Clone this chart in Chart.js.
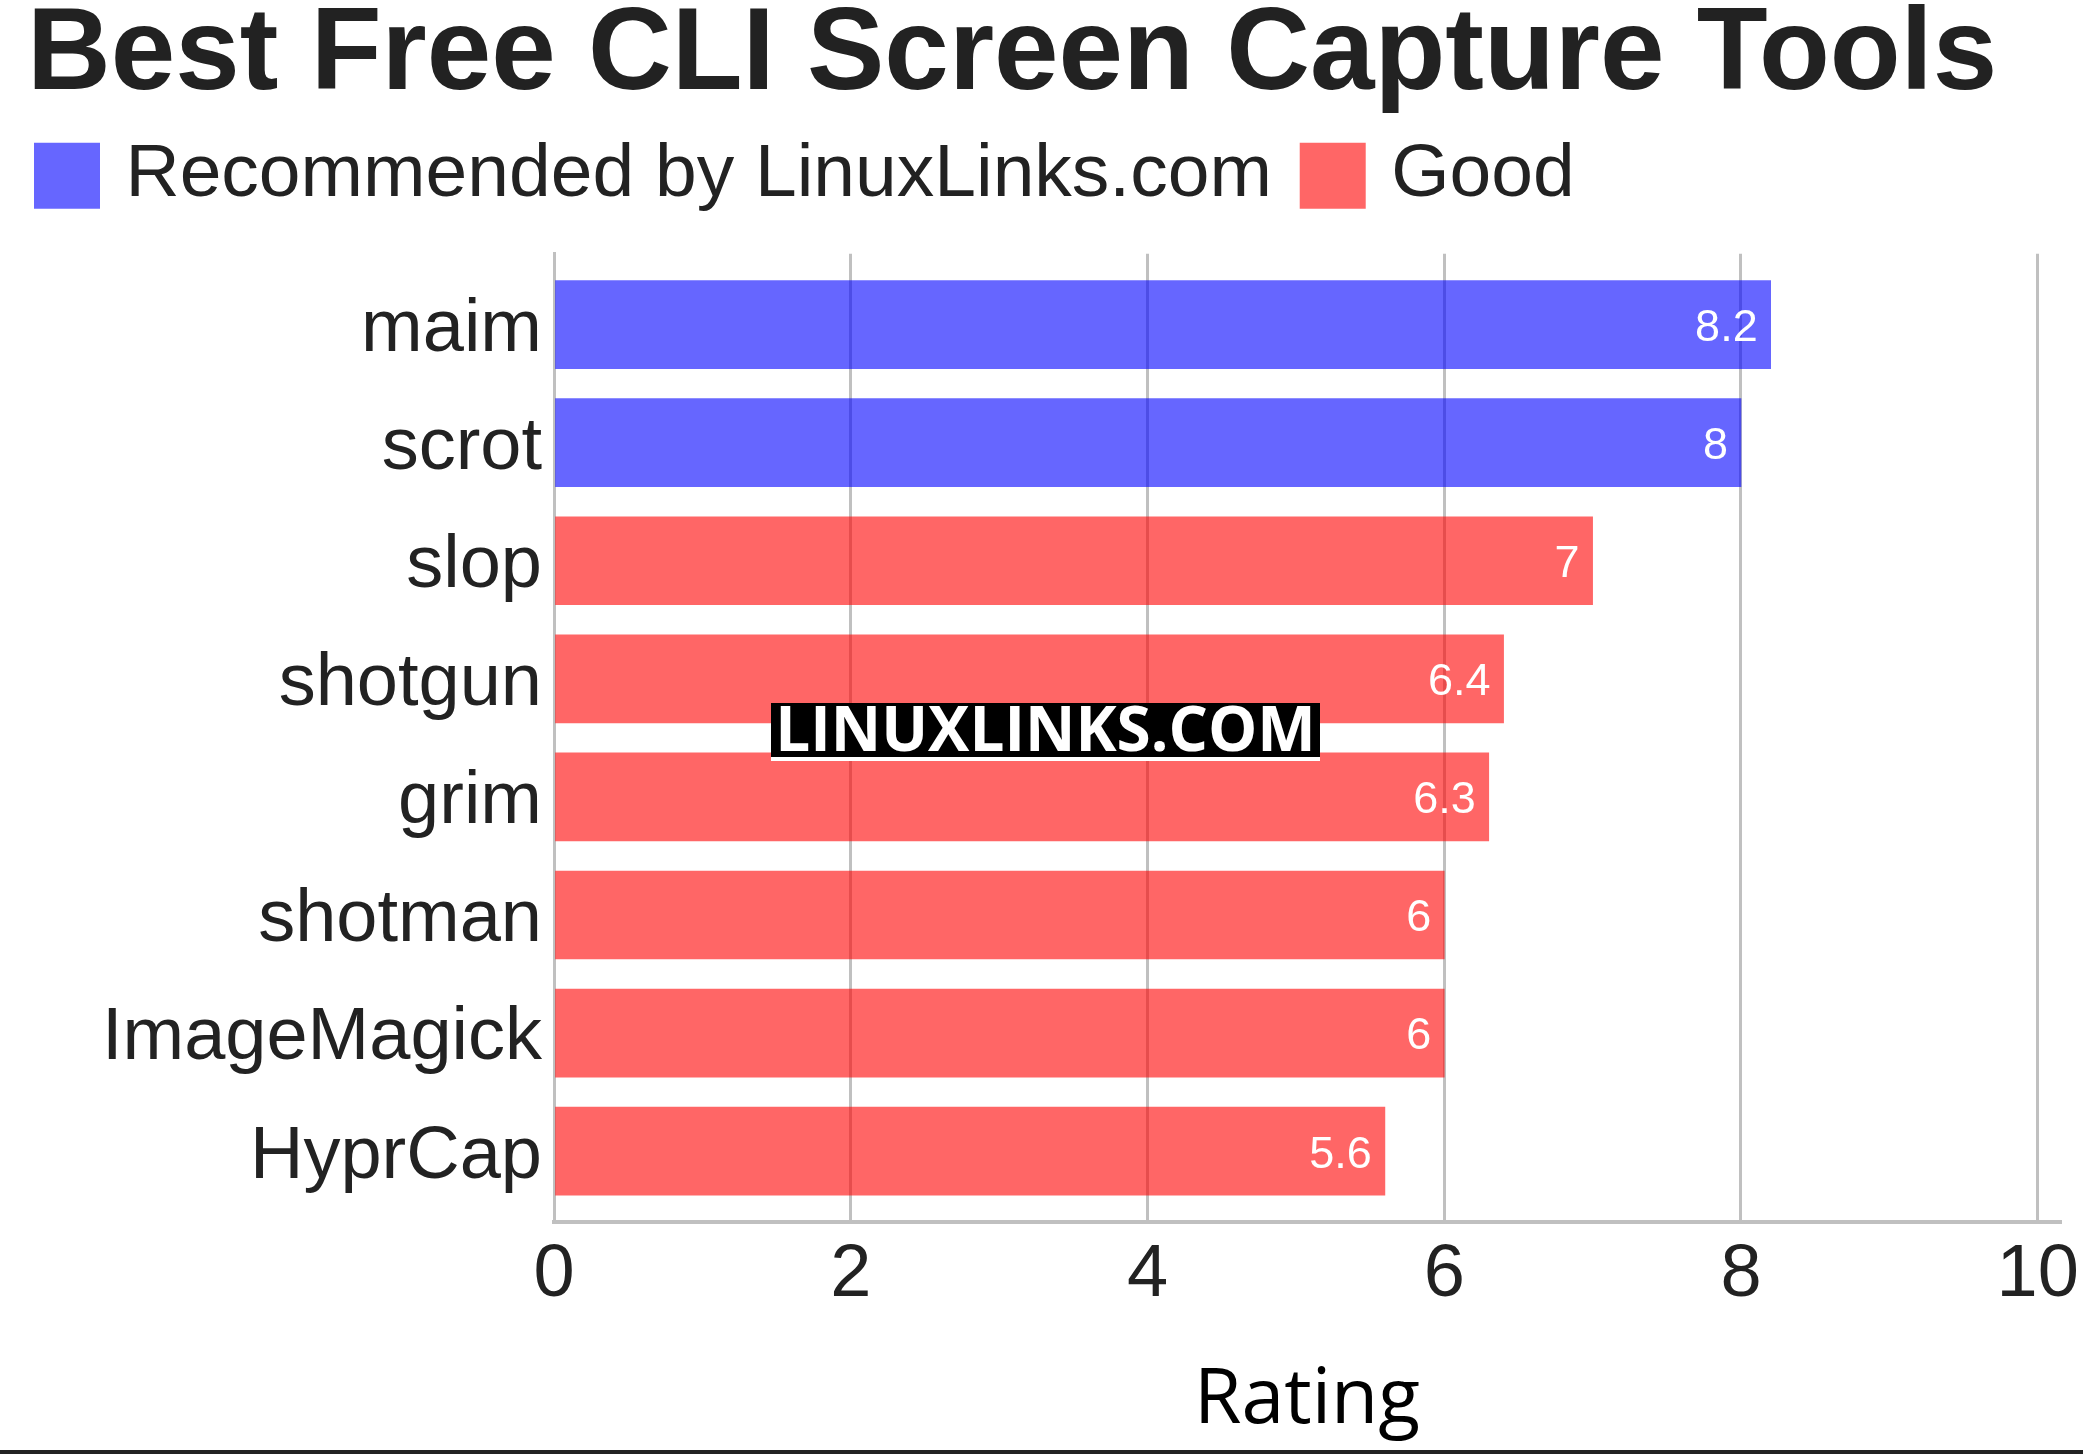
<!DOCTYPE html>
<html>
<head>
<meta charset="utf-8">
<title>Best Free CLI Screen Capture Tools</title>
<script src="https://cdn.jsdelivr.net/npm/chart.js@4.4.0/dist/chart.umd.min.js"></script>
<style>
  html, body { margin: 0; padding: 0; background: #fff; }
  #wrap { width: 2083px; height: 1454px; position: relative; }
</style>
</head>
<body>
<div id="wrap"><canvas id="chart"></canvas></div>
<script>
// dados do gráfico
const tools = ['maim', 'scrot', 'slop', 'shotgun', 'grim', 'shotman', 'ImageMagick', 'HyprCap'];
const ratings = [8.2, 8, 7, 6.4, 6.3, 6, 6, 5.6];
const tiers = ['rec', 'rec', 'good', 'good', 'good', 'good', 'good', 'good'];
const xTicks = [0, 2, 4, 6, 8, 10];

const BLUE = 'rgba(0, 0, 255, 0.6)';
const RED = 'rgba(255, 0, 0, 0.6)';
const GRID = '#c0c0c0';
const TEXT = '#222222';

// pontos {x: nota, y: índice} por grupo
function pointsFor(tier) {
    return tools.map((t, i) => ({ x: ratings[i], y: i }))
        .filter((p, i) => tiers[i] === tier);
}

Chart.defaults.font.family = '"Liberation Sans", Arial, sans-serif';
Chart.defaults.color = TEXT;

// rótulos de valor dentro das barras
const valueLabels = {
    id: 'valueLabels',
    afterDatasetsDraw(chart) {
        const ctx = chart.ctx;
        ctx.save();
        ctx.fillStyle = '#ffffff';
        ctx.font = '45px "Liberation Sans", Arial, sans-serif';
        ctx.textAlign = 'right';
        ctx.textBaseline = 'middle';
        chart.data.datasets.forEach((ds, di) => {
            chart.getDatasetMeta(di).data.forEach((bar, i) => {
                ctx.fillText(String(ds.data[i].x), bar.x - 13, bar.y + 4);
            });
        });
        ctx.restore();
    }
};

// marca d'água e linha inferior
const decorations = {
    id: 'decorations',
    afterDraw(chart) {
        const ctx = chart.ctx;
        ctx.save();
        ctx.fillStyle = '#ffffff';
        ctx.fillRect(771, 703, 549, 58);
        ctx.fillStyle = '#000000';
        ctx.fillRect(771, 703, 549, 54);
        ctx.fillStyle = '#ffffff';
        ctx.font = 'bold 62px "Open Sans", sans-serif';
        ctx.textAlign = 'center';
        ctx.textBaseline = 'alphabetic';
        ctx.fillText('LINUXLINKS.COM', 1045.5, 751);
        ctx.fillStyle = TEXT;
        ctx.fillRect(0, 1450, chart.width, 4);
        ctx.restore();
    }
};

const chart = new Chart(document.getElementById('chart'), {
    type: 'bar',
    data: {
        datasets: [
            { label: 'Recommended by LinuxLinks.com', data: pointsFor('rec'), backgroundColor: BLUE, borderWidth: 0 },
            { label: 'Good', data: pointsFor('good'), backgroundColor: RED, borderWidth: 0 }
        ]
    },
    options: {
        indexAxis: 'y',
        responsive: true,
        maintainAspectRatio: false,
        animation: false,
        barThickness: 88,
        grouped: false,
        layout: { padding: { top: 0, left: 27, right: 23, bottom: 0 } },
        plugins: {
            tooltip: { enabled: false },
            title: {
                display: true,
                text: 'Best Free CLI Screen Capture Tools',
                align: 'start',
                color: TEXT,
                font: { size: 116, weight: 'bold', lineHeight: 0.95 },
                padding: { top: 2, bottom: 7 }
            },
            // espaçador entre a legenda e a área do gráfico
            subtitle: {
                display: true,
                text: ' ',
                weight: 500,
                font: { size: 10, lineHeight: 1.2 },
                padding: { top: 18.5, bottom: 0 }
            },
            legend: {
                display: true,
                align: 'start',
                labels: {
                    usePointStyle: true,
                    pointStyle: 'rect',
                    boxWidth: 42,
                    boxHeight: 66,
                    color: TEXT,
                    font: { size: 75 },
                    padding: 19,
                    generateLabels: chart => {
                        const items = Chart.defaults.plugins.legend.labels.generateLabels(chart);
                        items.forEach((it, i) => { if (i < items.length - 1) it.text += '\u00a0'; });
                        return items;
                    }
                }
            }
        },
        scales: {
            x: {
                type: 'linear',
                min: 0,
                max: 10.15,
                afterBuildTicks: s => { s.ticks = xTicks.map(v => ({ value: v })); },
                grid: { color: GRID, lineWidth: 3, drawTicks: false },
                border: { color: GRID, width: 4 },
                ticks: { color: TEXT, font: { size: 74 }, padding: 9 },
                title: {
                    display: true,
                    text: 'Rating',
                    color: '#000',
                    font: { family: '"Open Sans", sans-serif', size: 77 },
                    padding: { top: 20, bottom: 7 }
                },
                afterFit: s => {
                    s.height = 232;
                    s.paddingLeft = 0;
                    s.paddingRight = 0;
                }
            },
            y: {
                type: 'linear',
                reverse: true,
                offset: false,
                min: -0.6,
                max: 7.6,
                afterBuildTicks: s => { s.ticks = tools.map((t, i) => ({ value: i })); },
                grid: { display: false, drawTicks: false, offset: false },
                border: { color: GRID, width: 3 },
                ticks: {
                    color: TEXT,
                    font: { size: 74 },
                    padding: 12,
                    labelOffset: 6,
                    callback: v => tools[v]
                },
                afterFit: s => { s.width = 527; }
            }
        }
    },
    plugins: [valueLabels, decorations]
});
</script>
</body>
</html>
